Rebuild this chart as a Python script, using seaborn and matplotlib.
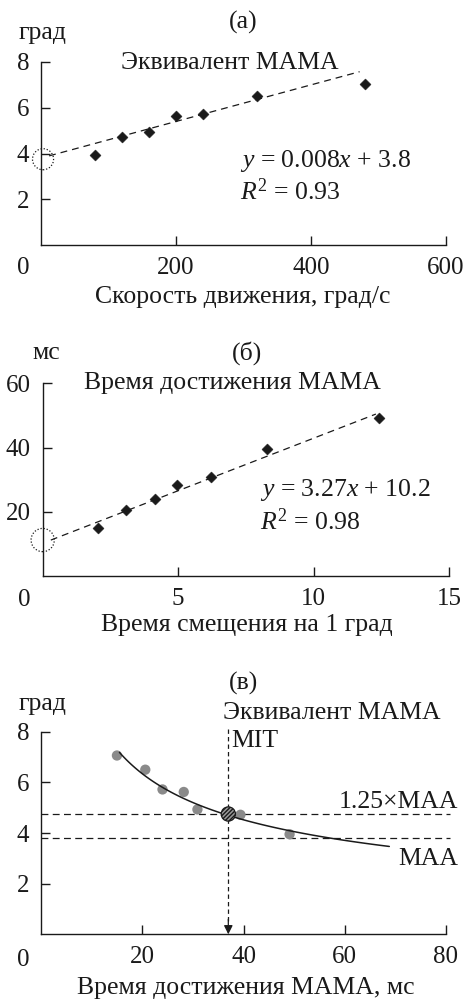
import numpy as np
import pandas as pd
import matplotlib
matplotlib.use("Agg")
import matplotlib.pyplot as plt
import seaborn as sns

# Movement speed of the target, deg/s
speed = [80, 120, 160, 200, 240, 320, 480]
# MAMA equivalent, deg
mama_equiv = [3.95, 4.72, 4.93, 5.62, 5.72, 6.50, 7.06]
# Time of shift per 1 deg, ms
shift_time = [12.42, 8.28, 6.20, 4.96, 4.13, 3.09, 2.06]
# Time to reach MAMA, ms
reach_time = [49.1, 39.4, 30.9, 28.2, 24.0, 20.6, 15.0]

# Linear fits stated on the panels: slope, intercept, R^2
fit_a = (0.008, 3.8, 0.93)
fit_b = (3.27, 10.2, 0.98)
maa = 3.8
mit = 37

sns.set_theme(style="ticks")
plt.rcParams["font.family"] = ["Liberation Serif", "DejaVu Serif"]
plt.rcParams["mathtext.fontset"] = "custom"
plt.rcParams["mathtext.rm"] = "Liberation Serif"
plt.rcParams["mathtext.it"] = "Liberation Serif:italic"
FS = 18.5      # annotation text
TFS = 18       # tick labels
INK = "#1a1a1a"

W, H = 468, 999
fig = plt.figure(figsize=(W / 100, H / 100), dpi=100)


def box(x0, y0, x1, y1):
    return [x0 / W, 1 - y1 / H, (x1 - x0) / W, (y1 - y0) / H]


def ftext(x, y, s, size=FS, **kw):
    kw.setdefault("ha", "center")
    kw.setdefault("va", "center")
    fig.text(x / W, 1 - y / H, s, fontsize=size, color=INK, **kw)


def style(ax, xt, yt, xlim, ylim):
    ax.set_xlim(*xlim)
    ax.set_ylim(*ylim)
    ax.set_xticks(xt)
    ax.set_yticks(yt)
    for s in ("top", "right"):
        ax.spines[s].set_visible(False)
    for s in ("left", "bottom"):
        ax.spines[s].set_linewidth(1.0)
        ax.spines[s].set_color(INK)
    ax.tick_params(direction="in", length=6.5, width=1.0, color=INK,
                   labelsize=TFS, labelcolor=INK, pad=8.5)
    ax.set_xlabel("")
    ax.set_ylabel("")
    ax.patch.set_alpha(0)
    # shared origin label
    ax.text(-0.045, -0.125, "0", transform=ax.transAxes, ha="center",
            va="center", fontsize=TFS, color=INK)


# ---------- (a) ----------
ax1 = fig.add_axes(box(41, 62, 446, 245))
dfa = pd.DataFrame({"speed": speed, "mama": mama_equiv})
xa = np.array([12, 472])
sns.lineplot(x=xa, y=fit_a[0] * xa + fit_a[1], ax=ax1, color=INK, lw=0.9,
             linestyle=(0, (5.5, 4)))
sns.scatterplot(data=dfa, x="speed", y="mama", ax=ax1, marker="D", s=32,
                color=INK, edgecolor=INK, linewidth=0.3, zorder=3)
ax1.scatter([3], [fit_a[1] - 0.05], s=230, facecolor="none", edgecolor=INK,
            linewidth=0.9, linestyle=(0, (1, 1.5)), clip_on=False, zorder=4)
style(ax1, [200, 400, 600], [2, 4, 6, 8], (0, 600), (0, 8))
ftext(243, 22, "(a)")
ftext(43, 33, "град")
ftext(230, 63, "Эквивалент МАМА")
ftext(240, 161, f"$y$ = {fit_a[0]}$x$ + {fit_a[1]}", ha="left")
ftext(240, 192, f"$R^2$ = {fit_a[2]}", ha="left")
ftext(243, 297, "Скорость движения, град/с")

# ---------- (б) ----------
ax2 = fig.add_axes(box(42.7, 383.3, 449, 576))
dfb = pd.DataFrame({"shift": shift_time, "reach": reach_time})
xb = np.array([0.3, 12.3])
sns.lineplot(x=xb, y=fit_b[0] * xb + fit_b[1], ax=ax2, color=INK, lw=0.9,
             linestyle=(0, (5.5, 4)))
sns.scatterplot(data=dfb, x="shift", y="reach", ax=ax2, marker="D", s=32,
                color=INK, edgecolor=INK, linewidth=0.3, zorder=3)
ax2.scatter([0], [fit_b[1] + 1.0], s=280, facecolor="none", edgecolor=INK,
            linewidth=0.9, linestyle=(0, (1, 1.5)), clip_on=False, zorder=4)
style(ax2, [5, 10, 15], [20, 40, 60], (0, 15), (0, 60))
ftext(247, 353, "(б)")
ftext(46, 353, "мс")
ftext(232, 383, "Время достижения МАМА")
ftext(260, 490, f"$y$ = {fit_b[0]}$x$ + {fit_b[1]}", ha="left")
ftext(260, 522, f"$R^2$ = {fit_b[2]}", ha="left")
ftext(247, 625, "Время смещения на 1 град")

# ---------- (в) ----------
ax3 = fig.add_axes(box(41, 731.7, 446, 934.3))
dfc = pd.DataFrame({"reach": reach_time, "mama": mama_equiv})
# power-law trend through the points
b_pow, ln_a = np.polyfit(np.log(reach_time), np.log(mama_equiv), 1)
tc = np.linspace(15.5, 68.8, 120)
sns.lineplot(x=tc, y=np.exp(ln_a) * tc ** b_pow, ax=ax3, color=INK, lw=1.1,
             zorder=3)
sns.scatterplot(data=dfc, x="reach", y="mama", ax=ax3, s=55, color="#8a8a8a",
                edgecolor="none", zorder=2)
for yv in (maa, 1.25 * maa):
    ax3.plot([0, 80.8], [yv, yv], color=INK, lw=0.9,
             linestyle=(0, (5.5, 3.5)), clip_on=False, zorder=1)
ax3.plot([mit, mit], [8.1, 0.5], color=INK, lw=0.9,
         linestyle=(0, (3.5, 2.5)), clip_on=False, zorder=1)
ax3.annotate("", xy=(mit, 0.0), xytext=(mit, 0.6),
             arrowprops=dict(arrowstyle="-|>", color=INK, lw=0.9,
                             mutation_scale=13, shrinkA=0, shrinkB=0))
ax3.scatter([mit], [1.25 * maa], s=105, facecolor="#9a9a9a", edgecolor=INK,
            hatch="////////", linewidth=0.9, zorder=5)
style(ax3, [20, 40, 60, 80], [2, 4, 6, 8], (0, 80), (0, 8))
ftext(243, 683, "(в)")
ftext(43, 704, "град")
ftext(332, 713, "Эквивалент МАМА")
ftext(231, 741, "MIT", ha="left")
ftext(458, 802, "1.25×MAA", ha="right")
ftext(458, 859, "MAA", ha="right")
ftext(246, 988, "Время достижения МАМА, мс")

fig.savefig("out.png", dpi=100)
